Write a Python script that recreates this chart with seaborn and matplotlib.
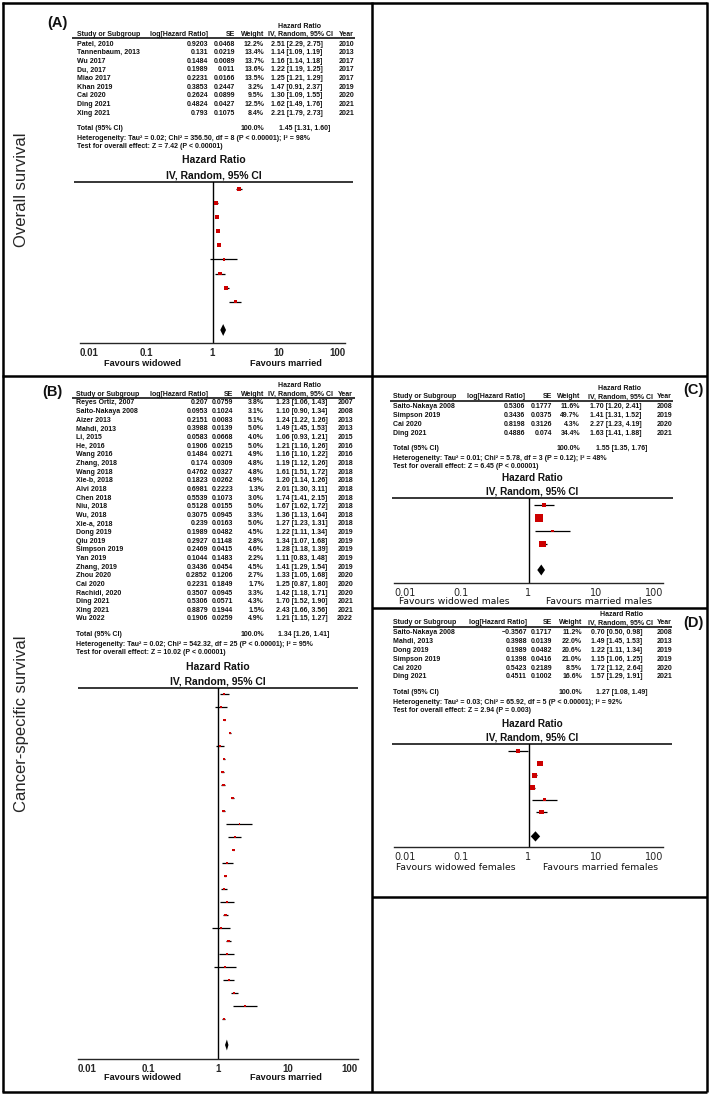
import numpy as np
import pandas as pd
import matplotlib
matplotlib.use("Agg")
import matplotlib.pyplot as plt
import seaborn as sns
from matplotlib.lines import Line2D
from matplotlib.ticker import NullLocator

# ---------------- DATA ----------------
tick_vals = [0.01, 0.1, 1, 10, 100]
tick_labels = ["0.01", "0.1", "1", "10", "100"]

# Panel A - Overall survival
A_study = ["Patel, 2010", "Tannenbaum, 2013", "Wu 2017", "Du, 2017", "Miao 2017",
           "Khan 2019", "Cai 2020", "Ding 2021", "Xing 2021"]
A_loghr = ["0.9203", "0.131", "0.1484", "0.1989", "0.2231", "0.3853", "0.2624", "0.4824", "0.793"]
A_se = ["0.0468", "0.0219", "0.0089", "0.011", "0.0166", "0.2447", "0.0899", "0.0427", "0.1075"]
A_weight = [12.2, 13.4, 13.7, 13.6, 13.5, 3.2, 9.5, 12.5, 8.4]
A_hr = [2.51, 1.14, 1.16, 1.22, 1.25, 1.47, 1.30, 1.62, 2.21]
A_lo = [2.29, 1.09, 1.14, 1.19, 1.21, 0.91, 1.09, 1.49, 1.79]
A_hi = [2.75, 1.19, 1.18, 1.25, 1.29, 2.37, 1.55, 1.76, 2.73]
A_year = [2010, 2013, 2017, 2017, 2017, 2019, 2020, 2021, 2021]
A_total = [1.45, 1.31, 1.60]
A_het = "Heterogeneity: Tau² = 0.02; Chi² = 356.50, df = 8 (P < 0.00001); I² = 98%"
A_test = "Test for overall effect: Z = 7.42 (P < 0.00001)"
A_fav = ["Favours widowed", "Favours married"]

# Panel B - Cancer-specific survival
B_study = ["Reyes Ortiz, 2007", "Saito-Nakaya 2008", "Aizer 2013", "Mahdi, 2013", "Li, 2015",
           "He, 2016", "Wang 2016", "Zhang, 2018", "Wang 2018", "Xie-b, 2018", "Alvi 2018",
           "Chen 2018", "Niu, 2018", "Wu, 2018", "Xie-a, 2018", "Dong 2019", "Qiu 2019",
           "Simpson 2019", "Yan 2019", "Zhang, 2019", "Zhou 2020", "Cai 2020", "Rachidi, 2020",
           "Ding 2021", "Xing 2021", "Wu 2022"]
B_loghr = ["0.207", "0.0953", "0.2151", "0.3988", "0.0583", "0.1906", "0.1484", "0.174", "0.4762",
           "0.1823", "0.6981", "0.5539", "0.5128", "0.3075", "0.239", "0.1989", "0.2927", "0.2469",
           "0.1044", "0.3436", "0.2852", "0.2231", "0.3507", "0.5306", "0.8879", "0.1906"]
B_se = ["0.0759", "0.1024", "0.0083", "0.0139", "0.0668", "0.0215", "0.0271", "0.0309", "0.0327",
        "0.0262", "0.2223", "0.1073", "0.0155", "0.0945", "0.0163", "0.0482", "0.1148", "0.0415",
        "0.1483", "0.0454", "0.1206", "0.1849", "0.0945", "0.0571", "0.1944", "0.0259"]
B_weight = [3.8, 3.1, 5.1, 5.0, 4.0, 5.0, 4.9, 4.8, 4.8, 4.9, 1.3, 3.0, 5.0, 3.3, 5.0, 4.5, 2.8,
            4.6, 2.2, 4.5, 2.7, 1.7, 3.3, 4.3, 1.5, 4.9]
B_hr = [1.23, 1.10, 1.24, 1.49, 1.06, 1.21, 1.16, 1.19, 1.61, 1.20, 2.01, 1.74, 1.67, 1.36, 1.27,
        1.22, 1.34, 1.28, 1.11, 1.41, 1.33, 1.25, 1.42, 1.70, 2.43, 1.21]
B_lo = [1.06, 0.90, 1.22, 1.45, 0.93, 1.16, 1.10, 1.12, 1.51, 1.14, 1.30, 1.41, 1.62, 1.13, 1.23,
        1.11, 1.07, 1.18, 0.83, 1.29, 1.05, 0.87, 1.18, 1.52, 1.66, 1.15]
B_hi = [1.43, 1.34, 1.26, 1.53, 1.21, 1.26, 1.22, 1.26, 1.72, 1.26, 3.11, 2.15, 1.72, 1.64, 1.31,
        1.34, 1.68, 1.39, 1.48, 1.54, 1.68, 1.80, 1.71, 1.90, 3.56, 1.27]
B_year = [2007, 2008, 2013, 2013, 2015, 2016, 2016, 2018, 2018, 2018, 2018, 2018, 2018, 2018, 2018,
          2019, 2019, 2019, 2019, 2019, 2020, 2020, 2020, 2021, 2021, 2022]
B_total = [1.34, 1.26, 1.41]
B_het = "Heterogeneity: Tau² = 0.02; Chi² = 542.32, df = 25 (P < 0.00001); I² = 95%"
B_test = "Test for overall effect: Z = 10.02 (P < 0.00001)"
B_fav = ["Favours widowed", "Favours married"]

# Panel C - males
C_study = ["Saito-Nakaya 2008", "Simpson 2019", "Cai 2020", "Ding 2021"]
C_loghr = ["0.5306", "0.3436", "0.8198", "0.4886"]
C_se = ["0.1777", "0.0375", "0.3126", "0.074"]
C_weight = [11.6, 49.7, 4.3, 34.4]
C_hr = [1.70, 1.41, 2.27, 1.63]
C_lo = [1.20, 1.31, 1.23, 1.41]
C_hi = [2.41, 1.52, 4.19, 1.88]
C_year = [2008, 2019, 2020, 2021]
C_total = [1.55, 1.35, 1.76]
C_het = "Heterogeneity: Tau² = 0.01; Chi² = 5.78, df = 3 (P = 0.12); I² = 48%"
C_test = "Test for overall effect: Z = 6.45 (P < 0.00001)"
C_fav = ["Favours widowed males", "Favours married males"]

# Panel D - females
D_study = ["Saito-Nakaya 2008", "Mahdi, 2013", "Dong 2019", "Simpson 2019", "Cai 2020", "Ding 2021"]
D_loghr = ["\u22120.3567", "0.3988", "0.1989", "0.1398", "0.5423", "0.4511"]
D_se = ["0.1717", "0.0139", "0.0482", "0.0416", "0.2189", "0.1002"]
D_weight = [11.2, 22.0, 20.6, 21.0, 8.5, 16.6]
D_hr = [0.70, 1.49, 1.22, 1.15, 1.72, 1.57]
D_lo = [0.50, 1.45, 1.11, 1.06, 1.12, 1.29]
D_hi = [0.98, 1.53, 1.34, 1.25, 2.64, 1.91]
D_year = [2008, 2013, 2019, 2019, 2020, 2021]
D_total = [1.27, 1.08, 1.49]
D_het = "Heterogeneity: Tau² = 0.03; Chi² = 65.92, df = 5 (P < 0.00001); I² = 92%"
D_test = "Test for overall effect: Z = 2.94 (P = 0.003)"
D_fav = ["Favours widowed females", "Favours married females"]

# ---------------- FIGURE ----------------
sns.set_style("white")
plt.rcParams['font.family'] = ['Liberation Sans', 'DejaVu Sans']

W, H = 709, 1094
fig = plt.figure(figsize=(W / 100, H / 100), dpi=100)
fig.patch.set_facecolor("white")

SANS = ['Liberation Sans', 'DejaVu Sans']
DJV = ['DejaVu Sans']


def fx(x):
    return x / W


def fy(y):
    return 1 - y / H


def T(x, y, s, ha='left', size=5.0, weight='bold', family=None, **kw):
    fig.text(fx(x), fy(y), s, ha=ha, va='center', fontsize=size, fontweight=weight,
             family=family or SANS, color='#111111', **kw)


def hline(x0, x1, y, lw=1.0):
    fig.add_artist(Line2D([fx(x0), fx(x1)], [fy(y), fy(y)], color='black', lw=lw,
                          transform=fig.transFigure, solid_capstyle='butt'))


def vline(x, y0, y1, lw=1.0):
    fig.add_artist(Line2D([fx(x), fx(x)], [fy(y0), fy(y1)], color='black', lw=lw,
                          transform=fig.transFigure, solid_capstyle='butt'))


def panel(study, loghr, se, weight, hr, lo, hi, year, total, het, test, fav, L):
    c = L['cols']
    n = len(study)
    fs = L.get('fs', 5.0)
    # table header
    T(c['hr_c'], L['h1'], "Hazard Ratio", ha='center', size=fs)
    T(c['study'], L['h2'], "Study or Subgroup", size=fs)
    T(c['log'], L['h2'], "log[Hazard Ratio]", ha='right', size=fs)
    T(c['se'], L['h2'], "SE", ha='right', size=fs)
    T(c['wt'], L['h2'], "Weight", ha='right', size=fs)
    T(c['hr_c'], L['h2'], "IV, Random, 95% CI", ha='center', size=fs)
    T(c['yr'], L['h2'], "Year", ha='right', size=fs)
    hline(L['rule'][0], L['rule'][1], L['rule'][2], lw=1.1)
    for i in range(n):
        y = L['row0'] + i * L['rowh']
        T(c['study'], y, study[i], size=fs)
        T(c['log'], y, loghr[i], ha='right', size=fs)
        T(c['se'], y, se[i], ha='right', size=fs)
        T(c['wt'], y, f"{weight[i]:.1f}%", ha='right', size=fs)
        T(c['hr_l'], y, f"{hr[i]:.2f} [{lo[i]:.2f}, {hi[i]:.2f}]", size=fs)
        T(c['yr'], y, str(year[i]), ha='right', size=fs)
    T(c['study'], L['tot'], "Total (95% CI)", size=fs)
    T(c['wt'], L['tot'], "100.0%", ha='right', size=fs)
    T(c['tot_l'], L['tot'], f"{total[0]:.2f} [{total[1]:.2f}, {total[2]:.2f}]", size=fs)
    T(c['study'], L['het'], het, size=fs)
    T(c['study'], L['test'], test, size=fs)

    # forest header
    fmid = (L['frule'][0] + L['frule'][1]) / 2
    T(fmid, L['ft1'], "Hazard Ratio", ha='center', size=L['ftsize'])
    T(fmid, L['ft2'], "IV, Random, 95% CI", ha='center', size=L['ftsize'])
    hline(L['frule'][0], L['frule'][1], L['frule'][2], lw=1.1)

    # forest axes
    x0, x1, ay = L['ax']
    top = L['frule'][2]
    ax = fig.add_axes([fx(x0), fy(ay), (x1 - x0) / W, (ay - top) / H])
    ax.set_facecolor('none')
    ax.set_xscale('log')
    ax.set_xlim(0.01, 100)
    sp = L['fsp']
    ax.set_ylim((ay - L['frow0']) / sp, (top - L['frow0']) / sp)
    rows = np.arange(n)
    ax.hlines(rows, lo, hi, color='black', lw=0.9, zorder=2)
    df = pd.DataFrame({'hr': hr, 'row': rows, 'weight': weight})
    sns.scatterplot(data=df, x='hr', y='row', size='weight', sizes=(0, 67), size_norm=(0, 100),
                    marker='s', color='#cc0000', linewidth=0, legend=False, ax=ax, zorder=3)
    r = n + 1
    h = 0.42
    ax.fill([total[1], total[0], total[2], total[0]], [r, r - h, r, r + h],
            color='black', lw=0, zorder=3)
    ax.axvline(1, color='black', lw=1.0, zorder=1)
    for s in ['left', 'right', 'top']:
        ax.spines[s].set_visible(False)
    ax.spines['bottom'].set_linewidth(1.0)
    ax.set_xlabel('')
    ax.set_ylabel('')
    ax.set_yticks([])
    ax.set_xticks(tick_vals)
    ax.set_xticklabels(tick_labels)
    ax.xaxis.set_minor_locator(NullLocator())
    ax.tick_params(axis='x', direction='inout', length=6, width=1.0, pad=0.5,
                   labelsize=L['tsize'])
    labs = ax.get_xticklabels()
    for lab in labs:
        lab.set_fontfamily(L['tfam'])
        lab.set_fontweight(L['tweight'])
    labs[0].set_ha('left')
    labs[-1].set_ha('right')
    T(L['fav'][0], L['fav'][2], fav[0], ha='center', size=L['favsize'],
      weight=L['tweight'], family=L['tfam'])
    T(L['fav'][1], L['fav'][2], fav[1], ha='center', size=L['favsize'],
      weight=L['tweight'], family=L['tfam'])


LA = dict(cols=dict(study=77, log=208, se=235, wt=264, hr_c=300, hr_l=271, tot_l=279, yr=354),
          h1=26, h2=34, rule=(72, 355, 38), row0=44, rowh=8.65, tot=128, het=138, test=146,
          ft1=160, ft2=175, ftsize=7.5, frule=(74, 353, 182), ax=(80, 345, 343), frow0=189,
          fsp=14.1, tsize=7, tfam=SANS, tweight='bold', fav=(142, 286, 364), favsize=6.6)
LB = dict(cols=dict(study=76, log=208, se=233, wt=264, hr_c=300, hr_l=276, tot_l=278, yr=353),
          h1=385, h2=394, rule=(72, 355, 398), row0=403, rowh=8.64, tot=635, het=645, test=653,
          ft1=667, ft2=681, ftsize=7.5, frule=(78, 358, 688), ax=(78, 358, 1059), frow0=694,
          fsp=13.0, tsize=7, tfam=SANS, tweight='bold', fav=(142, 286, 1077), favsize=6.6)
LC = dict(cols=dict(study=393, log=525, se=552, wt=580, hr_c=620, hr_l=590, tot_l=596, yr=672),
          h1=389, h2=397, rule=(390, 673, 401), row0=407, rowh=8.67, tot=448, het=458, test=466,
          ft1=478, ft2=491.5, ftsize=7.2, frule=(392, 673, 498), ax=(394, 663, 583), frow0=505,
          fsp=13.0, tsize=7, tfam=DJV, tweight='normal', fav=(454, 599, 601), favsize=6.7)
LD = dict(cols=dict(study=393, log=527, se=552, wt=582, hr_c=621, hr_l=591, tot_l=596, yr=672),
          h1=614, h2=623, rule=(393, 672, 627), row0=633, rowh=8.8, tot=692, het=702, test=711,
          ft1=724, ft2=737, ftsize=7.2, frule=(392, 672, 744), ax=(394, 663, 847), frow0=751,
          fsp=12.2, tsize=7, tfam=DJV, tweight='normal', fav=(456, 601, 867), favsize=6.7)

panel(A_study, A_loghr, A_se, A_weight, A_hr, A_lo, A_hi, A_year, A_total, A_het, A_test, A_fav, LA)
panel(B_study, B_loghr, B_se, B_weight, B_hr, B_lo, B_hi, B_year, B_total, B_het, B_test, B_fav, LB)
panel(C_study, C_loghr, C_se, C_weight, C_hr, C_lo, C_hi, C_year, C_total, C_het, C_test, C_fav, LC)
panel(D_study, D_loghr, D_se, D_weight, D_hr, D_lo, D_hi, D_year, D_total, D_het, D_test, D_fav, LD)

# panel letters
T(57, 23, "(A)", ha='center', size=10.5)
T(52, 392, "(B)", ha='center', size=10.5)
T(693, 390, "(C)", ha='center', size=10.5)
T(693, 623, "(D)", ha='center', size=10.5)

# row labels
fig.text(fx(22), fy(190), "Overall survival", rotation=90, ha='center', va='center',
         fontsize=12, family=SANS)
fig.text(fx(22), fy(724), "Cancer-specific survival", rotation=90, ha='center', va='center',
         fontsize=12, family=SANS)

# frame lines
BW = 1.8
hline(2, 707, 2.5, BW)
hline(2, 707, 1091.5, BW)
vline(3, 2, 1092, BW)
vline(706.5, 2, 1092, BW)
vline(372, 2, 1092, BW)
hline(2, 707, 376, BW)
hline(372, 707, 608, BW)
hline(372, 707, 897, BW)

fig.savefig("out.png", dpi=100, facecolor="white")
